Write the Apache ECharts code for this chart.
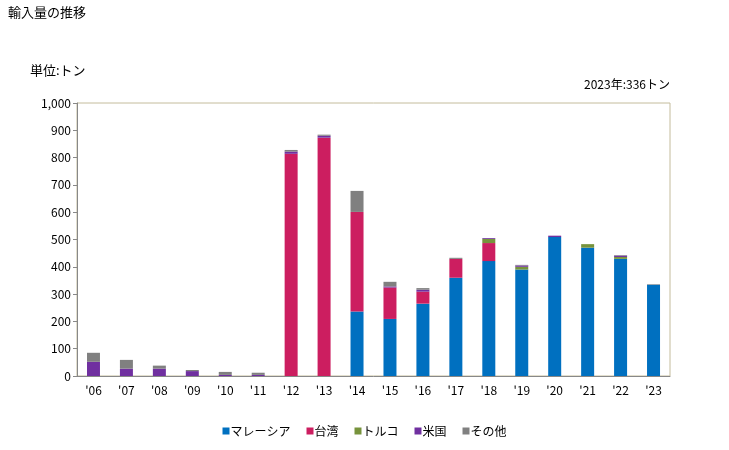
<!DOCTYPE html>
<html><head><meta charset="utf-8">
<script src="https://cdn.jsdelivr.net/npm/echarts@6/dist/echarts.min.js"></script>
<style>html,body{margin:0;padding:0;background:#fff}#c{width:729px;height:450px}</style>
</head><body><div id="c"></div>
<script>
var categories = ["'06","'07","'08","'09","'10","'11","'12","'13","'14","'15","'16","'17","'18","'19","'20","'21","'22","'23"];
var malaysia = [0,0,0,0,0,0,0,0,236,209,265,360,421,390,509,470,429,334];
var taiwan   = [0,0,0,0,0,0,814,873,365,115,44,69,66,0,0,0,0,0];
var turkey   = [0,0,0,0,0,0,0,0,0,0,0,0,15,10,0,13,7,0];
var usa      = [52,27,27,18,4,4,8,7,0,4,7,0,3,5,5,0,5,0];
var others   = [33,32,11,4,11,8,6,4,77,17,6,4,0,2,0,0,2,2];
var seriesNames = ['マレーシア','台湾','トルコ','米国','その他'];
var colors = ['#0070c0','#cc1e60','#77933c','#7030a0','#808080'];
var yTicks = [0,100,200,300,400,500,600,700,800,900,1000];

var font = '"Noto Sans CJK JP", sans-serif';
var chart = echarts.init(document.getElementById('c'));
var data = [malaysia, taiwan, turkey, usa, others];
chart.setOption({
  animation: false,
  textStyle: {fontFamily: font},
  graphic: [
    {type:'text', left: 8, top: 6, style:{text:'輸入量の推移', font:'13px '+font, fill:'#000'}},
    {type:'text', left: 30, top: 64, style:{text:'単位:トン', font:'13px '+font, fill:'#000'}},
    {type:'text', right: 59, top: 78, style:{text:'2023年:336トン', font:'12px '+font, fill:'#000', textAlign:'right'}}
  ],
  grid: {left: 77, right: 59, top: 103, bottom: 74, show: true, borderColor: '#c4bc9c', borderWidth: 1},
  legend: {
    bottom: 8, left: 'center', itemWidth: 7, itemHeight: 7, itemGap: 16, icon: 'rect',
    textStyle: {fontSize: 12, color: '#000', fontFamily: font, padding:[0,0,0,-4]},
    data: seriesNames
  },
  xAxis: {
    type: 'category', data: categories,
    axisLine: {lineStyle: {color: '#888'}},
    axisTick: {show: false},
    axisLabel: {color: '#000', fontSize: 12, margin: 8}
  },
  yAxis: {
    type: 'value', min: 0, max: 1000, interval: 100,
    axisLine: {show: true, lineStyle: {color: '#888'}},
    axisTick: {show: true, length: 4, lineStyle:{color:'#888'}},
    splitLine: {show: false},
    axisLabel: {color: '#000', fontSize: 12, margin: 6, formatter: function(v){return v.toLocaleString('en-US');}}
  },
  series: seriesNames.map(function(n, i){
    return {name: n, type: 'bar', stack: 'total', data: data[i], barWidth: 13,
      itemStyle: {color: colors[i]}};
  })
});
</script></body></html>
